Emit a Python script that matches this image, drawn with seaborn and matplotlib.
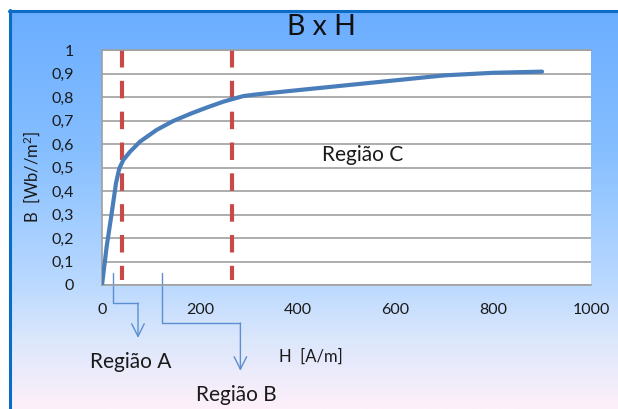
import numpy as np
import matplotlib.pyplot as plt
import seaborn as sns
from matplotlib.colors import LinearSegmentedColormap
from matplotlib.lines import Line2D

# ---- data ----
H = [0, 9.5, 19.8, 28.6, 35.4, 43.6, 57.3, 77.7, 111.8, 145.8, 180, 214, 248, 270,
     289, 320, 400, 500, 600, 700, 800, 900]
B = [0, 0.163, 0.305, 0.433, 0.496, 0.532, 0.567, 0.610, 0.660, 0.698, 0.728, 0.755, 0.780, 0.793,
     0.804, 0.812, 0.829, 0.850, 0.871, 0.892, 0.903, 0.908]
region_bounds = [40, 265]
x_ticks = [0, 200, 400, 600, 800, 1000]
y_ticks = [0, 0.1, 0.2, 0.3, 0.4, 0.5, 0.6, 0.7, 0.8, 0.9, 1]
y_ticklabels = ['0', '0,1', '0,2', '0,3', '0,4', '0,5', '0,6', '0,7', '0,8', '0,9', '1']

sns.set_style("white")
plt.rcParams['font.family'] = ['Lato', 'DejaVu Sans']

W, Hpx = 618, 409
fig = plt.figure(figsize=(W / 100, Hpx / 100), dpi=100)
fig.patch.set_facecolor('white')

# gradient background panel
bg = fig.add_axes([9 / W, 0, 1 - 9 / W, (Hpx - 10) / Hpx], zorder=-5)
stops = [(0.0, '#6badff'), (140 / 399, '#86bfff'), (270 / 399, '#b8d8ff'),
         (330 / 399, '#dbe7fc'), (1.0, '#fef0fa')]
cmap = LinearSegmentedColormap.from_list('bg', stops)
grad = np.linspace(0, 1, 400).reshape(-1, 1)
bg.imshow(grad, aspect='auto', cmap=cmap, extent=[0, 1, 0, 1])
bg.set_axis_off()

# frame border (left + top)
fig.add_artist(Line2D([10 / W, 10 / W], [0, (Hpx - 10) / Hpx], color='#0a6cc4', lw=2.2))
fig.add_artist(Line2D([9 / W, 1], [(Hpx - 10.5) / Hpx, (Hpx - 10.5) / Hpx], color='#0a6cc4', lw=2.2))

ax = fig.add_axes([102 / W, (Hpx - 285) / Hpx, (591 - 102) / W, (285 - 50) / Hpx])
ax.set_facecolor('white')

sns.lineplot(x=H, y=B, ax=ax, color='#4a7ebb', lw=3.0, zorder=3)

for xb in region_bounds:
    ax.plot([xb, xb], [1, 0.02], color='#c84a48', lw=3.0,
            linestyle=(0, (4.2, 3.2)), zorder=2, solid_capstyle='butt')

ax.set_xlim(0, 1000)
ax.set_ylim(0, 1)
ax.set_xticks(x_ticks)
ax.set_yticks(y_ticks)
ax.set_yticklabels(y_ticklabels)
ax.tick_params(axis='both', length=0, labelsize=11.5, colors='#1a1a1a')
ax.tick_params(axis='y', pad=20)
ax.tick_params(axis='x', pad=13)
ax.yaxis.grid(True, color='#a0a0a0', lw=1.2)
ax.xaxis.grid(False)
for s in ['left', 'bottom', 'top']:
    ax.spines[s].set_color('#a0a0a0')
    ax.spines[s].set_linewidth(1.2)
ax.spines['right'].set_visible(False)
ax.set_xlabel('')
ax.set_ylabel('')

ax.text(533, 0.553, 'Região C', fontsize=15, ha='center', va='center', color='#1a1a1a')

# connector arrows below the axis
arrow_col = '#5b8fd0'
ax.plot([23.5, 23.5, 73.6], [0.05, -0.077, -0.077], color=arrow_col, lw=1.0, clip_on=False)
ax.annotate('', xy=(73.6, -0.225), xytext=(73.6, -0.077), annotation_clip=False,
            arrowprops=dict(arrowstyle='->,head_length=0.9,head_width=0.45', color=arrow_col, lw=1.0,
                            shrinkA=0, shrinkB=0))
ax.plot([122, 122, 283], [0.05, -0.162, -0.162], color=arrow_col, lw=1.0, clip_on=False)
ax.annotate('', xy=(283, -0.365), xytext=(283, -0.162), annotation_clip=False,
            arrowprops=dict(arrowstyle='->,head_length=0.9,head_width=0.45', color=arrow_col, lw=1.0,
                            shrinkA=0, shrinkB=0))

fig.text(321 / W, 1 - 27 / Hpx, 'B x H', fontsize=20.5, ha='center', va='center', color='#111111')
fig.text(131 / W, 1 - 362 / Hpx, 'Região A', fontsize=15, ha='center', va='center', color='#1a1a1a')
fig.text(236 / W, 1 - 395 / Hpx, 'Região B', fontsize=15, ha='center', va='center', color='#1a1a1a')
fig.text(311 / W, 1 - 357 / Hpx, 'H  [A/m]', fontsize=12, ha='center', va='center', color='#1a1a1a')
fig.text(31.7 / W, 1 - 177 / Hpx, r'B  [Wb//$\mathregular{m^2}$]', fontsize=12, ha='center', va='center',
         rotation=90, color='#1a1a1a')

fig.savefig('out.png', dpi=100)
